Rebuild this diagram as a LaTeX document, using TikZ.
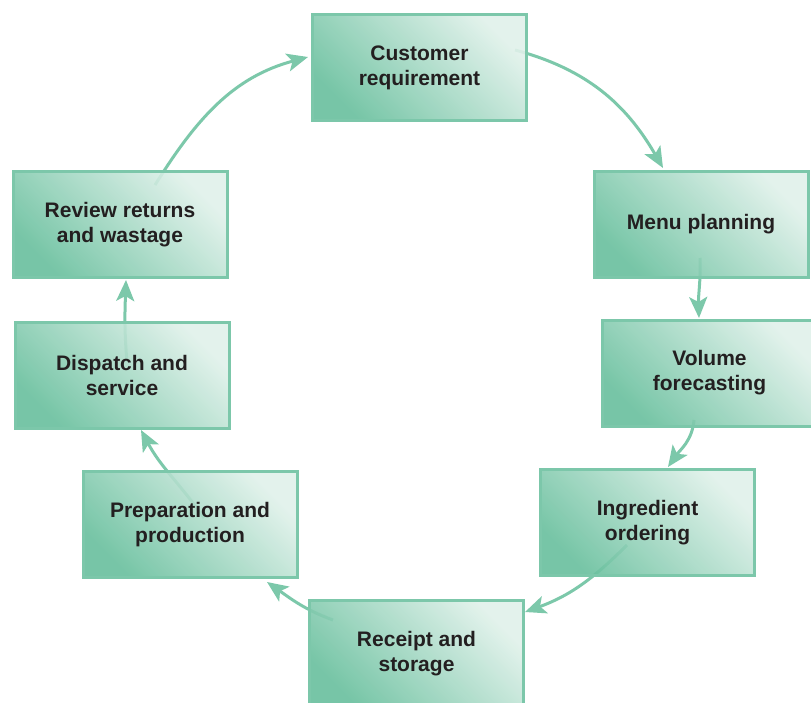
\documentclass[tikz,border=0pt]{standalone}
\usepackage{fontspec}
\setmainfont{Liberation Sans}
\usetikzlibrary{arrows.meta}
\definecolor{boxdark}{HTML}{68BF9D}
\definecolor{boxlight}{HTML}{E0F1EA}
\definecolor{rim}{HTML}{7CC7AA}
\definecolor{flow}{HTML}{7CC8AA}
\definecolor{ink}{HTML}{231F20}
\begin{document}
\begin{tikzpicture}[x=1pt,y=1pt,
  stage/.style={draw=rim, line width=3pt, minimum width=214pt, minimum height=106pt,
    bottom color=boxdark, top color=boxlight, shading angle=-45,
    align=center, font=\bfseries\fontsize{21}{25}\selectfont, text=ink,
    fill opacity=0.9, draw opacity=1, text opacity=1, inner sep=0pt},
  flowarrow/.style={draw=flow, line width=3pt,
    -{Stealth[length=21pt,width=18pt,inset=5pt]}}]
\useasboundingbox (0,0) rectangle (811,-702);
\clip (0,0) rectangle (811,-702);

% anchor points for the connector ends
\coordinate (c1s) at (515,-50);
\coordinate (c1e) at (663,-168);
\coordinate (c2s) at (700,-258);
\coordinate (c2e) at (699,-318);
\coordinate (c3s) at (694,-420);
\coordinate (c3e) at (668,-467);
\coordinate (c4s) at (627,-545);
\coordinate (c4e) at (525,-612);
\coordinate (c5s) at (333,-620);
\coordinate (c5e) at (267,-582);
\coordinate (c6s) at (204,-518);
\coordinate (c6e) at (141,-430);
\coordinate (c7s) at (127,-362);
\coordinate (c7e) at (126,-280);
\coordinate (c8s) at (155,-185);
\coordinate (c8e) at (308,-57);

% cycle connectors, drawn beneath the boxes
\draw[flowarrow] (c1s) to[out=-15,in=120] (c1e);
\draw[flowarrow] (c2s) to[out=-88,in=92] (c2e);
\draw[flowarrow] (c3s) to[out=-95,in=55] (c3e);
\draw[flowarrow] (c4s) to[out=-135,in=20] (c4e);
\draw[flowarrow] (c5s) to[out=160,in=-35] (c5e);
\draw[flowarrow] (c6s) to[out=125,in=-62] (c6e);
\draw[flowarrow] (c7s) to[out=95,in=-92] (c7e);
\draw[flowarrow] (c8s) to[out=58,in=195] (c8e);

% process stages
\node[stage] (cust) at (419.5,-67.5) {Customer\\requirement};
\node[stage] (menu) at (701,-224.5) {Menu planning};
\node[stage] (vol)  at (709.5,-373) {Volume\\forecasting};
\node[stage] (ingr) at (647.5,-522.5) {Ingredient\\ordering};
\node[stage] (rcpt) at (416.5,-653.5) {Receipt and\\storage};
\node[stage] (prep) at (190,-524.5) {Preparation and\\production};
\node[stage] (disp) at (122,-375.5) {Dispatch and\\service};
\node[stage] (revw) at (120,-224.5) {Review returns\\and wastage};
\end{tikzpicture}
\end{document}
